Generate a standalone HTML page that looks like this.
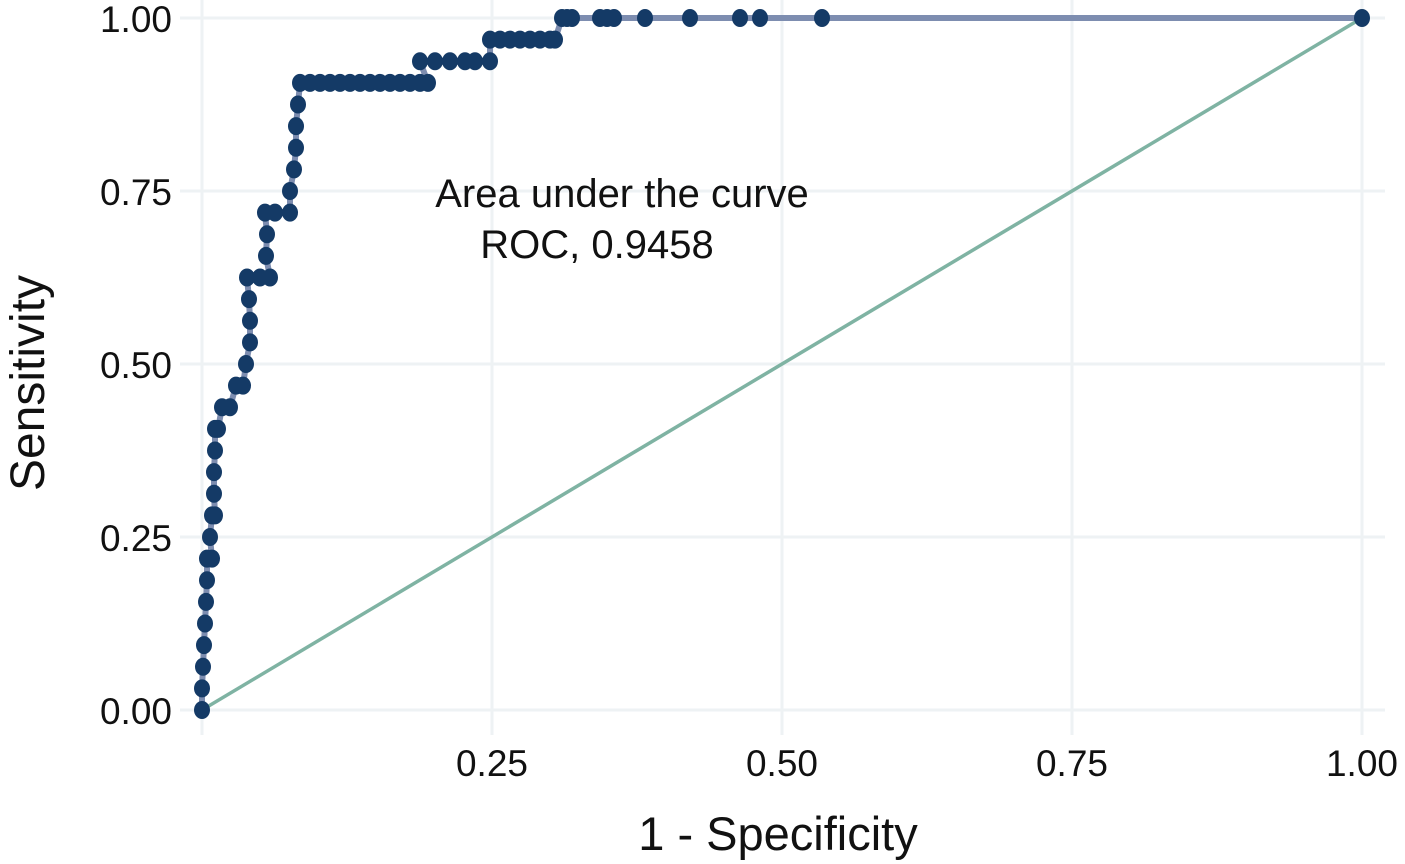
<!DOCTYPE html>
<html><head><meta charset="utf-8"><style>
body{margin:0;background:#fff;}
svg{display:block;font-family:"Liberation Sans",sans-serif;}
</style></head><body>
<svg id="chart" width="1405" height="864">
<g id="grid"></g>
<g id="axes"></g>
<g id="series"></g>
<text x="622" y="207" font-size="40" text-anchor="middle" fill="#111">Area under the curve</text>
<text x="597" y="258" font-size="40" text-anchor="middle" fill="#111">ROC, 0.9458</text>
<text x="778" y="850" font-size="47" text-anchor="middle" fill="#111">1 - Specificity</text>
<text transform="translate(44,383) rotate(-90)" font-size="48" text-anchor="middle" fill="#111">Sensitivity</text>
</svg>
<script>
const xTicks=[0.25,0.5,0.75,1.0];
const xTickLabels=["0.25","0.50","0.75","1.00"];
const yTicks=[0,0.25,0.5,0.75,1.0];
const yTickLabels=["0.00","0.25","0.50","0.75","1.00"];
const fprPx=[202,202,203,204,205,206,207,207,212,210,212,215,214,214,215,215,218,222,230,236,243,246,250,250,249,247,260,270,266,267,265,275,290,290,294,296,296,298,300,310,320,330,340,350,360,370,380,390,400,410,420,428,420,435,450,465,475,490,490,500,510,520,530,540,550,555,562,567,572,600,607,614,645,690,740,760,822,1362];
const tprK=[0,1,2,3,4,5,6,7,7,8,9,9,10,11,12,13,13,14,14,15,15,16,17,18,19,20,20,20,21,22,23,23,23,24,25,26,27,28,29,29,29,29,29,29,29,29,29,29,29,29,29,29,30,30,30,30,30,30,31,31,31,31,31,31,31,31,32,32,32,32,32,32,32,32,32,32,32,32];
const fpr=fprPx.map(p=>(p-202)/1160);
const tpr=tprK.map(k=>k/32);
const X=v=>202+v*1160, Y=v=>710-v*692;
const NS="http://www.w3.org/2000/svg";
function mk(tag,attrs,parent){const e=document.createElementNS(NS,tag);for(const k in attrs)e.setAttribute(k,attrs[k]);parent.appendChild(e);return e;}
const grid=document.getElementById('grid'),axes=document.getElementById('axes'),ser=document.getElementById('series');
[0,...xTicks].forEach(v=>{const l=mk('line',{x1:X(v),x2:X(v),y1:0,y2:735,stroke:'#eef2f4','stroke-width':3},grid);

});
yTicks.forEach(v=>{const l=mk('line',{x1:180,x2:1385,y1:Y(v),y2:Y(v),stroke:'#eef2f4','stroke-width':3},grid);

});
xTicks.forEach((v,i)=>{const t=mk('text',{x:X(v),y:776,'font-size':37,'text-anchor':'middle',fill:'#111'},axes);t.textContent=xTickLabels[i];

});
yTicks.forEach((v,i)=>{const t=mk('text',{x:172,y:Y(v)+14,'font-size':37,'text-anchor':'end',fill:'#111'},axes);t.textContent=yTickLabels[i];

});
const diag=mk('line',{x1:X(0),y1:Y(0),x2:X(1),y2:Y(1),stroke:'#7fb3a3','stroke-width':3.5},ser);


const pts=fpr.map((f,i)=>X(f)+','+Y(tpr[i])).join(' ');
const pl=mk('polyline',{points:pts,fill:'none',stroke:'#7d8db0','stroke-width':6},ser);


fpr.forEach((f,i)=>{const c=mk('ellipse',{cx:X(f),cy:Y(tpr[i]),rx:8,ry:9,fill:'#143a66'},ser);

});
</script>
</body></html>
